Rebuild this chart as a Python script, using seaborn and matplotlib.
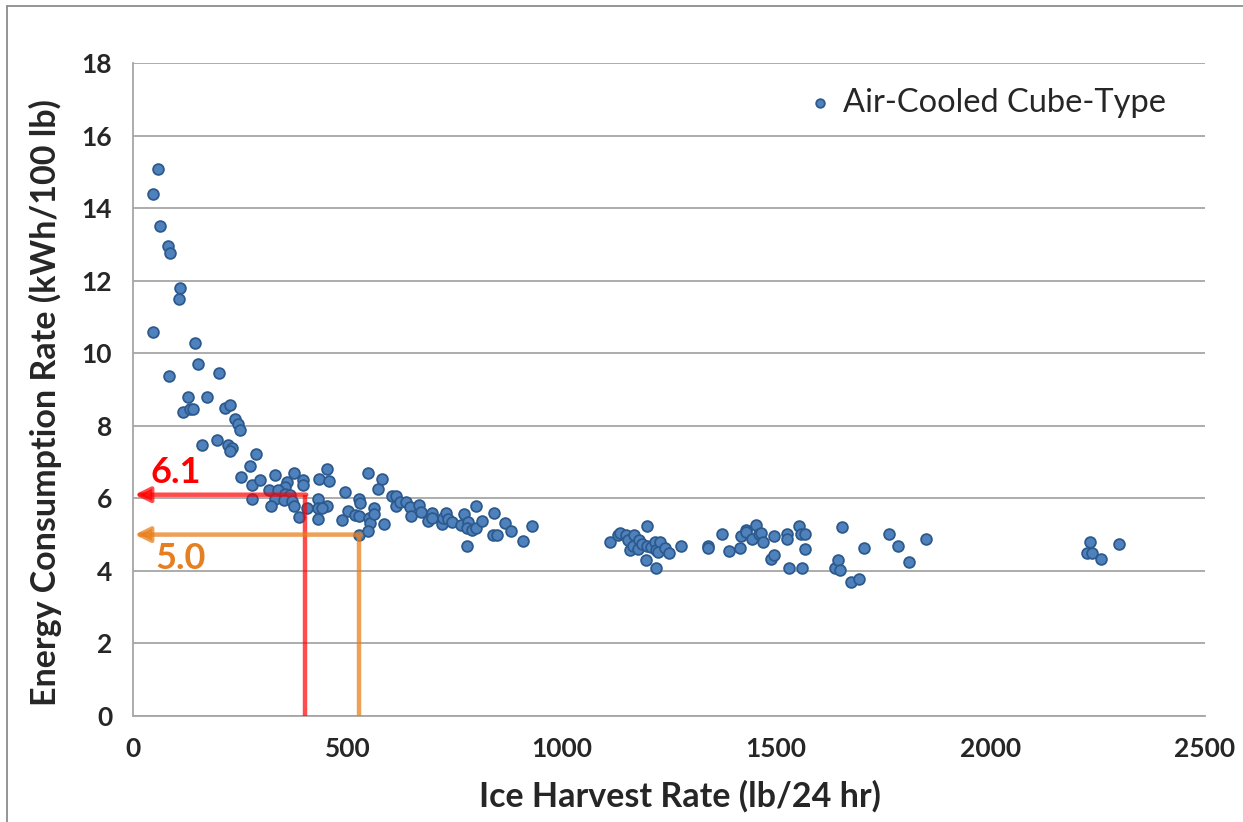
import numpy as np
import pandas as pd
import matplotlib.pyplot as plt
import seaborn as sns
from matplotlib.lines import Line2D
from matplotlib.ticker import MultipleLocator

# Ice harvest rate (lb/24 hr) and energy consumption (kWh/100 lb)
harvest = [
    59, 46, 63, 82, 86, 110, 107, 46, 145, 152, 201, 85, 128, 173,
    117, 133, 141, 215, 226, 238, 246, 250, 160, 197, 221, 230, 226,
    286, 274, 251, 278, 296, 331, 376, 358, 355, 396, 397, 317, 339,
    355, 365, 277, 331, 352, 370, 321, 376, 386, 405, 432, 432, 432,
    452, 440, 434, 457, 452, 495, 487, 502, 526, 530, 518, 528, 526,
    547, 572, 580, 551, 553, 549, 561, 563, 586, 603, 613, 613, 623,
    637, 645, 648, 666, 672, 689, 698, 698, 720, 722, 730, 734, 743,
    765, 772, 782, 778, 790, 800, 799, 778, 813, 842, 840, 850, 868,
    881, 909, 930,
    1113, 1130, 1136, 1150, 1154, 1158, 1167, 1169, 1179, 1177, 1187,
    1198, 1198, 1196, 1207, 1218, 1220, 1220, 1229, 1225, 1241, 1249, 1278,
    1342, 1342, 1373, 1390, 1416, 1418, 1429, 1430, 1443, 1453, 1459,
    1464, 1470, 1488, 1496, 1495, 1525, 1526, 1529, 1554, 1558, 1566,
    1566, 1560, 1638, 1645, 1649, 1653, 1674, 1694, 1705, 1764, 1785,
    1810, 1849,
    2232, 2225, 2237, 2258, 2300,
]
energy = [
    15.09, 14.39, 13.5, 12.95, 12.75, 11.79, 11.5, 10.59, 10.27, 9.7, 9.46, 9.37, 8.8, 8.8,
    8.38, 8.45, 8.45, 8.5, 8.58, 8.2, 8.06, 7.88, 7.48, 7.6, 7.48, 7.39, 7.31,
    7.22, 6.9, 6.59, 6.38, 6.5, 6.64, 6.7, 6.45, 6.32, 6.5, 6.36, 6.24, 6.23,
    6.13, 6.1, 5.98, 5.97, 5.95, 5.92, 5.79, 5.79, 5.49, 5.74, 5.98, 5.72, 5.43,
    5.79, 5.72, 6.52, 6.48, 6.8, 6.18, 5.4, 5.65, 5.98, 5.86, 5.54, 5.52, 4.99,
    6.69, 6.25, 6.53, 5.47, 5.31, 5.1, 5.72, 5.58, 5.29, 6.06, 6.07, 5.79, 5.9,
    5.9, 5.77, 5.52, 5.81, 5.63, 5.38, 5.6, 5.46, 5.29, 5.47, 5.6, 5.43, 5.35,
    5.26, 5.58, 5.35, 5.19, 5.12, 5.19, 5.79, 4.68, 5.38, 5.6, 4.99, 4.99, 5.31,
    5.1, 4.83, 5.23,
    4.8, 4.99, 5.05, 5.0, 4.85, 4.57, 4.68, 4.99, 4.85, 4.6, 4.75,
    5.23, 4.68, 4.3, 4.65, 4.8, 4.57, 4.09, 4.8, 4.53, 4.62, 4.48, 4.68,
    4.68, 4.62, 5.03, 4.55, 4.62, 4.97, 5.14, 5.06, 4.87, 5.26, 5.01,
    5.05, 4.8, 4.34, 4.45, 4.96, 5.01, 4.87, 4.09, 5.24, 5.01, 5.01,
    4.59, 4.09, 4.07, 4.3, 4.02, 5.2, 3.7, 3.79, 4.64, 5.01, 4.68,
    4.25, 4.88,
    4.8, 4.49, 4.49, 4.33, 4.74,
]

# reference lines: (harvest rate, energy rate, label)
red_x, red_y, red_label = 400, 6.1, "6.1"
orange_x, orange_y, orange_label = 528, 5.0, "5.0"

df = pd.DataFrame({"harvest": harvest, "energy": energy})

sns.set_style("white")
plt.rcParams["font.family"] = ["Lato", "DejaVu Sans"]

fig = plt.figure(figsize=(12.43, 8.22), dpi=100)
ax = fig.add_axes([133 / 1243, 1 - 716 / 822, 1072 / 1243, 653 / 822])

sns.scatterplot(data=df, x="harvest", y="energy", ax=ax, s=60,
                color="#4F81BD", edgecolor="#2C5A8C", linewidth=1.3,
                label="Air-Cooled Cube-Type", zorder=3)

# marker lines with arrows
for xv, yv, col, a in [(red_x, red_y, "red", 0.7), (orange_x, orange_y, "#E8801E", 0.75)]:
    ax.plot([xv, xv], [0, yv], color=col, alpha=a, lw=3.2, solid_capstyle="butt", zorder=4)
    ax.annotate("", xy=(4, yv), xytext=(xv + 4, yv),
                arrowprops=dict(arrowstyle="-|>,head_length=0.9,head_width=0.45",
                                color=col, alpha=a, lw=3.2, shrinkA=0, shrinkB=0),
                zorder=4)

ax.text(99, 6.72, red_label, color="red", fontsize=26, fontweight="bold",
        ha="center", va="center")
ax.text(110, 4.33, orange_label, color="#E67E22", fontsize=26, fontweight="bold",
        ha="center", va="center")

ax.set_xlim(0, 2500)
ax.set_ylim(0, 18)
ax.xaxis.set_major_locator(MultipleLocator(500))
ax.xaxis.set_minor_locator(MultipleLocator(100))
ax.yaxis.set_major_locator(MultipleLocator(2))
ax.yaxis.set_minor_locator(MultipleLocator(1))

ax.grid(axis="y", which="major", color="#A6A6A6", lw=1.3)
ax.set_axisbelow(True)
for side in ["top", "right"]:
    ax.spines[side].set_visible(False)
for side in ["left", "bottom"]:
    ax.spines[side].set_color("#A6A6A6")
    ax.spines[side].set_linewidth(1.3)

ax.tick_params(axis="both", which="both", direction="out", color="#A6A6A6", width=1.3)
ax.tick_params(axis="both", which="major", length=9, labelsize=19, pad=6)
ax.tick_params(axis="both", which="minor", length=7)
for lbl in ax.get_xticklabels() + ax.get_yticklabels():
    lbl.set_fontweight("bold")

ax.set_xlabel("Ice Harvest Rate (lb/24 hr)", fontsize=24.5, fontweight="bold")
ax.set_ylabel("Energy Consumption Rate (kWh/100 lb)", fontsize=24.5, fontweight="bold")
ax.xaxis.set_label_coords(0.51, -0.098)
ax.yaxis.set_label_coords(-0.066, 0.48)

leg = ax.legend(loc="center left", bbox_to_anchor=(0.626, 0.939), frameon=False,
                fontsize=23.5, markerscale=0.8, handletextpad=0.2, handlelength=1.0,
                borderpad=0, borderaxespad=0)

# outer chart border
fig.add_artist(Line2D([7 / 1243, 7 / 1243], [0, 1 - 6 / 822], color="#8C8C8C", lw=1.3))
fig.add_artist(Line2D([7 / 1243, 1], [1 - 6 / 822, 1 - 6 / 822], color="#8C8C8C", lw=1.3))

fig.savefig("out.png", dpi=100)
